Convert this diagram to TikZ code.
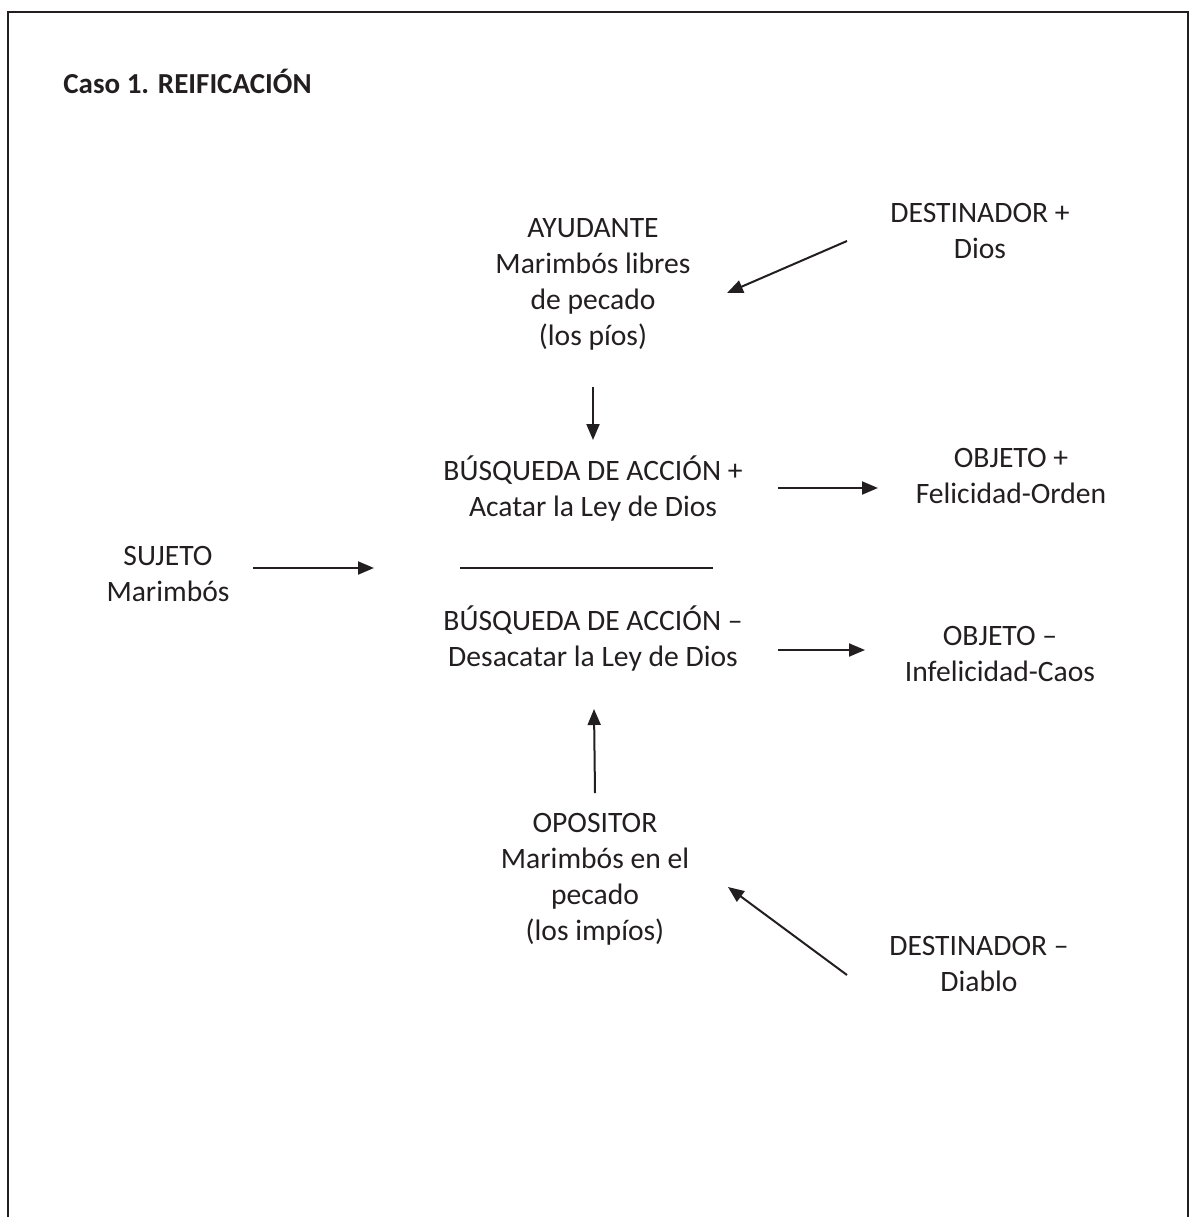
\documentclass[tikz,border=0pt]{standalone}
\usepackage{fontspec}
\setmainfont{Carlito}
\usetikzlibrary{arrows.meta}
\definecolor{ink}{HTML}{231F20}
\newcommand{\bodyfont}{\fontsize{14.8}{18}\selectfont}
\newcommand{\titlefont}{\fontsize{14.5}{18}\selectfont\bfseries}
\newcommand{\ml}[1]{\begin{tabular}[t]{@{}c@{}}#1\end{tabular}}
\tikzset{
  lbl/.style={anchor=base, inner sep=0pt, font=\bodyfont, text=ink},
  arr/.style={draw=ink, line width=1pt, -{Triangle[length=8pt,width=6.5pt]}},
  frame/.style={draw=ink, line width=1pt}
}
\begin{document}
\begin{tikzpicture}[x=0.5pt,y=-0.5pt]
\useasboundingbox (0,0) rectangle (1192,1217);
% frame (open at the bottom)
\coordinate (fbl) at (8,1217);
\coordinate (ftl) at (8,12);
\coordinate (ftr) at (1188,12);
\coordinate (fbr) at (1188,1217);
\draw[frame] (fbl) -- (ftl) -- (ftr) -- (fbr);
% title
\node[lbl, anchor=base west, font=\titlefont] (title) at (63,93) {Caso 1. REIFICACIÓN};
% labels
\node[lbl] (ayud) at (593,237) {\ml{AYUDANTE\\Marimbós libres\\de pecado\\(los píos)}};
\node[lbl] (dplus) at (980,222) {\ml{DESTINADOR +\\Dios}};
\node[lbl] (bplus) at (593,480) {\ml{BÚSQUEDA DE ACCIÓN +\\Acatar la Ley de Dios}};
\node[lbl] (oplus) at (1011,467) {\ml{OBJETO +\\Felicidad-Orden}};
\node[lbl] (suj) at (168,565) {\ml{SUJETO\\Marimbós}};
\node[lbl] (bminus) at (593,630) {\ml{BÚSQUEDA DE ACCIÓN –\\Desacatar la Ley de Dios}};
\node[lbl] (ominus) at (1000,645) {\ml{OBJETO –\\Infelicidad-Caos}};
\node[lbl] (opos) at (595,832) {\ml{OPOSITOR\\Marimbós en el\\pecado\\(los impíos)}};
\node[lbl] (dminus) at (979,955) {\ml{DESTINADOR –\\Diablo}};
% arrow end points
\coordinate (a1s) at (847,241);  \coordinate (a1e) at (727,293);
\coordinate (a2s) at (593,387);  \coordinate (a2e) at (593,440);
\coordinate (a3s) at (778,488);  \coordinate (a3e) at (878,488);
\coordinate (a4s) at (253,568);  \coordinate (a4e) at (374,568);
\coordinate (ls)  at (460,568);  \coordinate (le)  at (713,568);
\coordinate (a5s) at (778,650);  \coordinate (a5e) at (865,650);
\coordinate (a6s) at (595,793);  \coordinate (a6e) at (594,709);
\coordinate (a7s) at (847,975);  \coordinate (a7e) at (728,887);
% connectors
\draw[arr] (a1s) -- (a1e);
\draw[arr] (a2s) -- (a2e);
\draw[arr] (a3s) -- (a3e);
\draw[arr] (a4s) -- (a4e);
\draw[draw=ink, line width=1pt] (ls) -- (le);
\draw[arr] (a5s) -- (a5e);
\draw[arr] (a6s) -- (a6e);
\draw[arr] (a7s) -- (a7e);
\end{tikzpicture}
\end{document}
